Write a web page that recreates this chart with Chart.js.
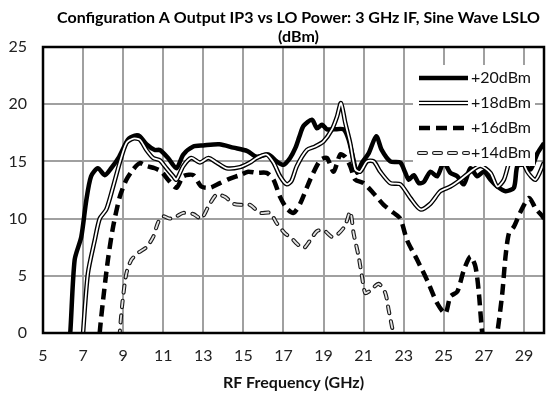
<!DOCTYPE html>
<html>
<head>
<meta charset="utf-8">
<script src="https://cdn.jsdelivr.net/npm/chart.js@4.4.1/dist/chart.umd.min.js"></script>
<style>
  html, body { margin: 0; padding: 0; background: #fff; }
</style>
</head>
<body>
<canvas id="myChart" width="552" height="404"></canvas>
<script>
const titleLines = ['Configuration A Output IP3 vs LO Power: 3 GHz IF, Sine Wave LSLO', '(dBm)'];
const xTitle = 'RF Frequency (GHz)';
const xTicks = [5, 7, 9, 11, 13, 15, 17, 19, 21, 23, 25, 27, 29];
const seriesNames = ['+20dBm', '+18dBm', '+16dBm', '+14dBm'];

// RF frequency (GHz) / output IP3 (dBm)
const freq20 = [6.2, 6.36, 6.58, 6.91, 7.16, 7.4, 7.74, 8.08, 8.4, 8.8, 9.24, 9.58, 9.83, 10.16, 10.58, 10.83, 11.24, 11.66, 12.0, 12.5, 13.0, 13.8, 14.5, 15.2, 15.66, 16.24, 16.66, 17.0, 17.33, 17.6, 17.8, 18.0, 18.42, 18.67, 18.92, 19.17, 19.5, 20.0, 20.25, 20.5, 20.67, 20.92, 21.25, 21.63, 21.9, 22.33, 22.83, 23.08, 23.25, 23.5, 23.75, 24.0, 24.33, 24.67, 25.0, 25.33, 25.67, 26.0, 26.33, 26.67, 27.0, 27.33, 27.67, 28.08, 28.5, 28.67, 29.0, 29.33, 29.67, 30.0];
const ip20 = [-3, 0, 6.4, 8.4, 11.6, 13.7, 14.4, 13.8, 14.4, 15.4, 16.9, 17.25, 17.2, 16.5, 16.0, 16.0, 15.3, 14.4, 15.6, 16.3, 16.4, 16.5, 16.2, 15.9, 15.4, 15.6, 15.0, 14.7, 15.3, 16.2, 17.2, 18.1, 18.65, 17.9, 18.2, 17.8, 17.8, 17.8, 16.9, 15.1, 14.0, 14.9, 15.7, 17.2, 16.0, 15.0, 14.9, 14.0, 13.4, 13.8, 13.1, 13.2, 14.1, 13.7, 14.9, 14.0, 13.7, 13.0, 14.4, 13.7, 14.1, 13.4, 12.8, 12.4, 12.7, 14.6, 14.7, 14.3, 15.7, 16.6];

const freq18 = [6.9, 7.0, 7.24, 7.58, 7.83, 8.16, 8.5, 8.83, 9.16, 9.5, 9.83, 10.16, 10.5, 10.83, 11.16, 11.5, 11.66, 12.0, 12.4, 12.83, 13.25, 13.66, 14.16, 14.83, 15.33, 15.66, 16.16, 16.5, 16.83, 17.16, 17.4, 17.67, 18.17, 18.58, 19.0, 19.42, 19.67, 19.87, 20.08, 20.33, 20.58, 20.83, 21.17, 21.5, 21.83, 22.33, 22.83, 23.33, 23.83, 24.33, 24.83, 25.33, 25.83, 26.33, 26.83, 27.33, 27.67, 28.0, 28.33, 28.67, 29.17, 29.58, 30.0];
const ip18 = [-3, 0, 5.2, 8.1, 10.0, 10.8, 12.8, 14.9, 16.6, 17.0, 16.9, 16.0, 15.3, 15.1, 14.4, 13.7, 13.4, 14.6, 15.3, 14.9, 15.3, 14.9, 14.4, 14.5, 14.9, 15.3, 15.6, 14.9, 13.7, 13.0, 13.3, 14.6, 16.0, 16.3, 16.75, 17.8, 18.9, 20.1, 18.4, 16.6, 14.3, 14.1, 15.0, 15.0, 14.1, 13.1, 13.0, 11.8, 10.8, 11.3, 12.4, 12.8, 13.4, 14.1, 14.6, 14.0, 12.8, 13.4, 15.3, 16.0, 14.1, 13.4, 14.9];

const freq16 = [7.75, 7.83, 8.0, 8.24, 8.5, 8.83, 9.16, 9.5, 9.83, 10.16, 10.58, 10.91, 11.24, 11.66, 12.0, 12.5, 12.9, 13.33, 13.83, 14.33, 14.83, 15.24, 15.66, 16.16, 16.5, 16.83, 17.16, 17.5, 17.83, 18.33, 18.83, 19.17, 19.5, 19.83, 20.08, 20.33, 20.58, 21.0, 21.5, 22.0, 22.5, 22.83, 23.17, 23.67, 24.17, 24.67, 25.08, 25.33, 25.67, 26.0, 26.33, 26.58, 26.75, 26.92, 27.3, 27.67, 27.92, 28.08, 28.25, 28.5, 28.83, 29.25, 29.58, 29.92, 30.0];
const ip16 = [-3, 0, 2.9, 6.4, 9.3, 11.9, 13.4, 14.3, 14.85, 14.6, 14.4, 14.1, 13.4, 12.7, 13.7, 13.8, 12.8, 12.7, 13.1, 13.5, 13.8, 14.1, 14.0, 14.0, 13.4, 11.9, 10.9, 10.5, 11.3, 13.4, 15.1, 15.3, 14.1, 15.6, 15.4, 14.6, 13.4, 13.1, 12.2, 11.2, 10.5, 10.0, 8.1, 6.4, 4.6, 2.6, 1.7, 3.2, 3.6, 5.5, 6.7, 5.8, 3.5, 0, -4, 0, 3.5, 6.7, 8.7, 9.3, 10.6, 11.8, 10.9, 10.2, 10.0];

const freq14 = [8.75, 8.83, 8.96, 9.16, 9.41, 9.75, 10.16, 10.5, 10.75, 11.0, 11.33, 11.66, 12.0, 12.5, 12.9, 13.25, 13.66, 14.08, 14.5, 14.91, 15.33, 15.83, 16.33, 16.66, 17.08, 17.4, 17.67, 18.0, 18.33, 18.67, 19.0, 19.42, 19.75, 20.08, 20.33, 20.5, 20.75, 20.92, 21.08, 21.33, 21.75, 22.08, 22.25, 22.42, 22.6, 22.8];
const ip14 = [-3, 0, 2.6, 5.2, 6.4, 7.0, 7.5, 8.4, 9.7, 10.2, 10.0, 10.2, 10.5, 10.4, 10.0, 11.05, 12.1, 11.9, 11.3, 11.2, 11.2, 10.5, 10.5, 9.6, 8.7, 8.3, 7.8, 7.4, 8.1, 8.9, 9.0, 8.4, 8.7, 9.4, 10.6, 8.7, 6.7, 4.9, 3.5, 3.7, 4.3, 3.5, 2.0, 0.5, -1, -3];

const pts = (xs, ys) => xs.map((x, i) => ({x: x, y: ys[i]}));

const FONT = 'Lato, "Open Sans", sans-serif';

// how each series is stroked (outer stroke, optional inner stroke)
const styles = [
  {outer: {color: '#000', width: 4.5, dash: []}},
  {outer: {color: '#000', width: 4.5, dash: []}, inner: {color: '#fff', width: 1.8, dash: []}},
  {outer: {color: '#000', width: 4.5, dash: [11, 6]}},
  {outer: {color: '#1a1a1a', width: 4, dash: [7, 8], cap: 'round'}, inner: {color: '#e2e2e2', width: 1.8, dash: [7, 8], cap: 'round'}}
];

const seriesData = [pts(freq20, ip20), pts(freq18, ip18), pts(freq16, ip16), pts(freq14, ip14)];

const datasets = [];
seriesData.forEach((d, i) => {
  const st = styles[i];
  ['outer', 'inner'].forEach((k, j) => {
    if (!st[k]) return;
    datasets.push({
      label: seriesNames[i],
      data: d,
      borderColor: st[k].color,
      borderWidth: st[k].width,
      borderDash: st[k].dash,
      borderCapStyle: st[k].cap || 'butt',
      borderJoinStyle: 'round',
      pointRadius: 0,
      tension: 0.25,
      fill: false,
      order: 20 - i * 4 - j
    });
  });
});

const titlePlugin = {
  id: 'topTitle',
  afterDraw(chart) {
    const {ctx, chartArea} = chart;
    const cx = (chartArea.left + chartArea.right) / 2 + 5;
    ctx.save();
    ctx.fillStyle = '#000';
    ctx.font = 'bold 16px ' + FONT;
    ctx.textAlign = 'center';
    ctx.textBaseline = 'middle';
    titleLines.forEach((t, i) => ctx.fillText(t, cx, 18 + i * 19));
    ctx.restore();
  }
};

const legendPlugin = {
  id: 'boxLegend',
  afterDatasetsDraw(chart) {
    const {ctx, chartArea} = chart;
    const x0 = chartArea.right - 131, y0 = chartArea.top + 18;
    ctx.save();
    ctx.fillStyle = '#fff';
    ctx.fillRect(x0, y0, 122, 101);
    seriesNames.forEach((name, i) => {
      const y = y0 + 13 + i * 25;
      const st = styles[i];
      ['outer', 'inner'].forEach(k => {
        if (!st[k]) return;
        ctx.beginPath();
        ctx.strokeStyle = st[k].color;
        ctx.lineWidth = st[k].width;
        ctx.setLineDash(st[k].dash);
        ctx.lineCap = st[k].cap || 'butt';
        ctx.moveTo(x0 + 6, y);
        ctx.lineTo(x0 + 55, y);
        ctx.stroke();
      });
      ctx.setLineDash([]);
      ctx.fillStyle = '#111';
      ctx.font = '16px ' + FONT;
      ctx.textAlign = 'left';
      ctx.textBaseline = 'middle';
      ctx.fillText(name, x0 + 58, y);
    });
    // plot frame
    ctx.strokeStyle = '#000';
    ctx.lineWidth = 2.5;
    ctx.strokeRect(chartArea.left, chartArea.top, chartArea.right - chartArea.left, chartArea.bottom - chartArea.top);
    ctx.restore();
  }
};

new Chart(document.getElementById('myChart'), {
  type: 'line',
  data: { datasets: datasets },
  options: {
    responsive: false,
    animation: false,
    layout: { padding: { top: 47, right: 8, bottom: 12, left: 0 } },
    plugins: {
      legend: { display: false },
      tooltip: { enabled: false },
      title: { display: false }
    },
    scales: {
      x: {
        type: 'linear',
        min: 5,
        max: 30,
        afterBuildTicks: (scale) => { scale.ticks = xTicks.map(v => ({value: v})); },
        afterFit: (scale) => { scale.height = 59; },
        grid: { color: '#a0a0a0', lineWidth: 2, drawTicks: false },
        border: { display: false },
        ticks: { color: '#222', font: { family: FONT, size: 16 }, padding: 13, maxRotation: 0, autoSkip: false },
        title: { display: true, text: xTitle, color: '#111', font: { family: FONT, size: 16, weight: 'bold' }, padding: { top: 0, bottom: 0 } }
      },
      y: {
        min: 0,
        max: 25,
        ticks: { stepSize: 5, color: '#222', font: { family: FONT, size: 16 }, padding: 16 },
        afterFit: (scale) => { scale.width = 43; },
        grid: { color: '#a0a0a0', lineWidth: 2, drawTicks: false },
        border: { display: false }
      }
    }
  },
  plugins: [legendPlugin, titlePlugin]
});
</script>
</body>
</html>
